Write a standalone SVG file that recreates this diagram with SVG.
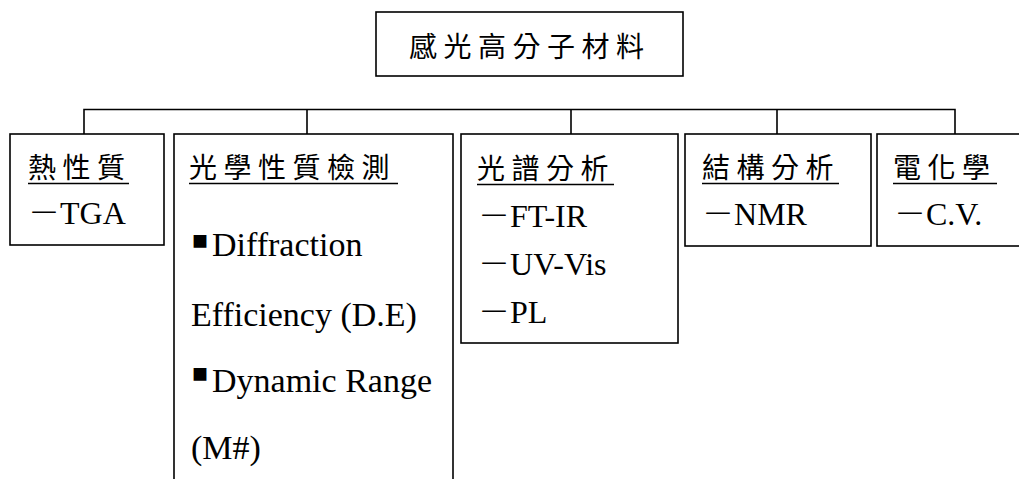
<svg xmlns="http://www.w3.org/2000/svg" width="1019" height="479" viewBox="0 0 1019 479">
<style>
.box{fill:#fff;stroke:#000;stroke-width:1.6}
.con{fill:none;stroke:#000;stroke-width:1.6}
.ul{stroke:#000;stroke-width:1.5}
.cjk{font-family:"Noto Sans CJK TC","Noto Sans CJK SC",sans-serif;font-size:28px;letter-spacing:6.5px;fill:#000}
.tm{font-family:"Liberation Serif","Times New Roman",serif;font-size:32px;fill:#000}
.tm2{font-family:"Liberation Serif","Times New Roman",serif;font-size:34px;fill:#000}
.d{font-family:"Noto Sans CJK TC",sans-serif;font-weight:300}
.bul{font-family:"Noto Sans CJK TC",sans-serif;font-size:16px;fill:#000}
</style>
<rect width="1019" height="479" fill="#fff"/>
<g id="connectors">
<path class="con" d="M84,134 V109.5 H955 V134 M307,109.5 V134 M571,109.5 V134 M777,109.5 V134"/>
</g>
<g id="root">
<rect class="box" x="376" y="12" width="307" height="64"/>
<text class="cjk" x="409" y="57">感光高分子材料</text>
</g>
<g id="thermal">
<rect class="box" x="10" y="134" width="154" height="111"/>
<text class="cjk" x="28" y="178">熱性質</text>
<line class="ul" x1="28" y1="183.5" x2="129" y2="183.5"/>
<text class="tm" x="28" y="224"><tspan class="d">－</tspan>TGA</text>
</g>
<g id="optical">
<rect class="box" x="174" y="134" width="279" height="360"/>
<text class="cjk" x="189" y="178">光學性質檢測</text>
<line class="ul" x1="189" y1="183.5" x2="398" y2="183.5"/>
<text class="bul" x="192" y="247">■</text>
<text class="tm2" x="212" y="256">Diffraction</text>
<text class="tm2" x="191" y="326">Efficiency (D.E)</text>
<text class="bul" x="192" y="380">■</text>
<text class="tm2" x="212" y="392">Dynamic Range</text>
<text class="tm2" x="191" y="459">(M#)</text>
</g>
<g id="spectra">
<rect class="box" x="461" y="134" width="217" height="209"/>
<text class="cjk" x="477" y="179">光譜分析</text>
<line class="ul" x1="477" y1="184.5" x2="614" y2="184.5"/>
<text class="tm" x="478" y="227"><tspan class="d">－</tspan>FT-IR</text>
<text class="tm" x="478" y="275"><tspan class="d">－</tspan>UV-Vis</text>
<text class="tm" x="478" y="323"><tspan class="d">－</tspan>PL</text>
</g>
<g id="structure">
<rect class="box" x="685" y="134" width="186" height="112"/>
<text class="cjk" x="702" y="178">結構分析</text>
<line class="ul" x1="702" y1="183.5" x2="839" y2="183.5"/>
<text class="tm" x="702" y="225"><tspan class="d">－</tspan>NMR</text>
</g>
<g id="electro">
<rect class="box" x="877" y="134" width="160" height="112"/>
<text class="cjk" x="893" y="178">電化學</text>
<line class="ul" x1="893" y1="183.5" x2="997" y2="183.5"/>
<text class="tm" x="894" y="225"><tspan class="d">－</tspan>C.V.</text>
</g>
</svg>
